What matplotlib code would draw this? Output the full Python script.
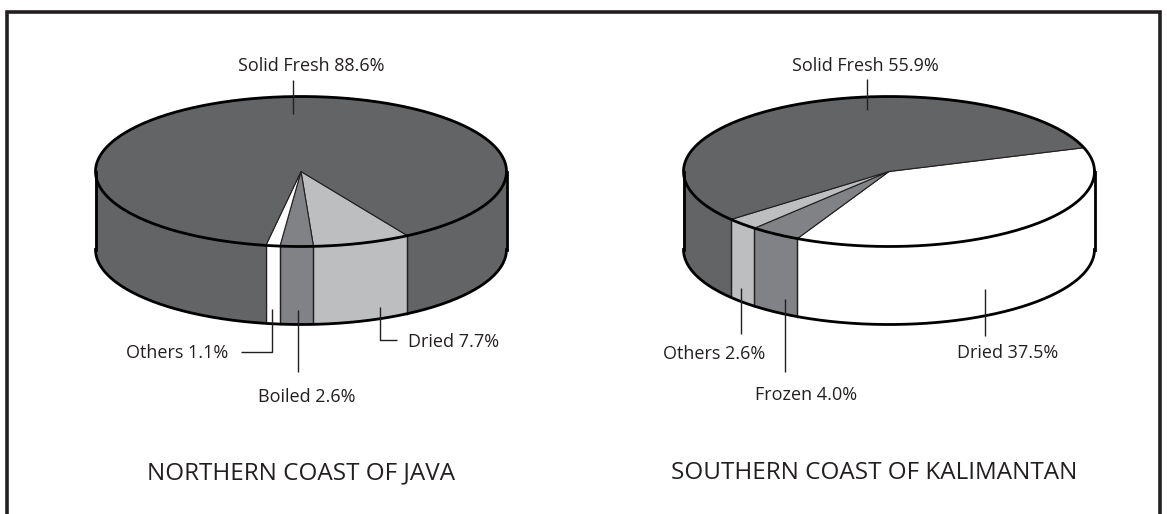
#!/usr/bin/python

import numpy as np
import matplotlib
matplotlib.use('Agg')
import matplotlib.pyplot as plt
from matplotlib.patches import Polygon, Rectangle

plt.rcParams['font.family'] = ['Open Sans', 'DejaVu Sans']

java_names = ['Dried', 'Boiled', 'Others', 'Solid Fresh']
java_values = [7.7, 2.6, 1.1, 88.6]
java_colors = ['#bcbec0', '#808285', '#ffffff', '#636466']

kali_names = ['Dried', 'Frozen', 'Others', 'Solid Fresh']
kali_values = [37.5, 4.0, 2.6, 55.9]
kali_colors = ['#ffffff', '#808285', '#bcbec0', '#636466']

titles = ['NORTHERN COAST OF JAVA', 'SOUTHERN COAST OF KALIMANTAN']

RX, RY, DEPTH = 205.5, 75, 78
INK = '#231f20'
TXT = '#231f20'


def rim(cx, cy, a, b):
    n = max(2, int(abs(b - a)) + 2)
    t = np.radians(np.linspace(a, b, n))
    return cx + RX * np.cos(t), cy - RY * np.sin(t)


def pie(ax, cx, cy, values, colors, start):
    # slices go clockwise from start, angle is taken on the ellipse
    a = start
    for v, c in zip(values, colors):
        b = a - v * 3.6
        # side, only the front half shows (a slice may wrap past -360)
        for off in (0, 360):
            lo = max(b + off, -180)
            hi = min(a + off, 0)
            if hi > lo:
                x, y = rim(cx, cy, lo, hi)
                pts = list(zip(x, y)) + list(zip(x[::-1], y[::-1] + DEPTH))
                ax.add_patch(Polygon(pts, fc=c, ec=c, lw=0.3, zorder=2))
        for e in (a, b):
            if -180 < ((e + 180) % 360 - 180) < 0:
                x, y = rim(cx, cy, e, e)
                ax.plot([x[0], x[0]], [y[0], y[0] + DEPTH], color=INK, lw=0.9, zorder=3)
        # top
        x, y = rim(cx, cy, b, a)
        pts = [(cx, cy)] + list(zip(x, y))
        ax.add_patch(Polygon(pts, fc=c, ec=INK, lw=0.8, joinstyle='round', zorder=4))
        a = b
    # outlines
    x, y = rim(cx, cy, 0, 360)
    ax.plot(x, y, color='black', lw=2.0, zorder=5)
    x, y = rim(cx, cy, -180, 0)
    ax.plot(x, y + DEPTH, color='black', lw=2.0, zorder=5)
    ax.plot([cx - RX, cx - RX], [cy, cy + DEPTH], color='black', lw=2.0, zorder=5)
    ax.plot([cx + RX, cx + RX], [cy, cy + DEPTH], color='black', lw=2.0, zorder=5)


def leader(ax, xs, ys):
    ax.plot(xs, ys, color=INK, lw=1.0, zorder=6, solid_capstyle='butt')


def label(ax, names, values, i, x, y):
    ax.text(x, y, '%s %.1f%%' % (names[i], values[i]), ha='center', va='center',
            fontsize=13, color=TXT, zorder=7)


fig = plt.figure(figsize=(11.67, 5.14), dpi=100)
ax = fig.add_axes([0, 0, 1, 1])
ax.set_xlim(0, 1167)
ax.set_ylim(514, 0)
ax.axis('off')

ax.add_patch(Rectangle((7, 11.5), 1153, 520, fc='white', ec=INK, lw=2.6, zorder=1))

pie(ax, 301, 171.5, java_values, java_colors, -58.8)
pie(ax, 889, 171.5, kali_values, kali_colors, 18.5)

# left pie labels
label(ax, java_names, java_values, 3, 311.5, 66)
leader(ax, [293, 293], [80, 114])
label(ax, java_names, java_values, 2, 177, 353)
leader(ax, [241, 272, 272], [352, 352, 309])
label(ax, java_names, java_values, 1, 307, 396.5)
leader(ax, [298, 298], [310, 372])
label(ax, java_names, java_values, 0, 453.5, 342)
leader(ax, [397, 380, 380], [340, 340, 307])

# right pie labels
label(ax, kali_names, kali_values, 3, 865, 66)
leader(ax, [867, 867], [78.5, 110])
label(ax, kali_names, kali_values, 2, 714, 354)
leader(ax, [741, 741], [288, 334])
label(ax, kali_names, kali_values, 1, 806, 395)
leader(ax, [785, 785], [299, 372])
label(ax, kali_names, kali_values, 0, 1008, 353)
leader(ax, [984.5, 984.5], [289, 336])

ax.text(300.7, 473, titles[0], ha='center', va='center', fontsize=17.5, color=TXT)
ax.text(874, 473, titles[1], ha='center', va='center', fontsize=17.5, color=TXT)

fig.savefig('out.png', dpi=100)
